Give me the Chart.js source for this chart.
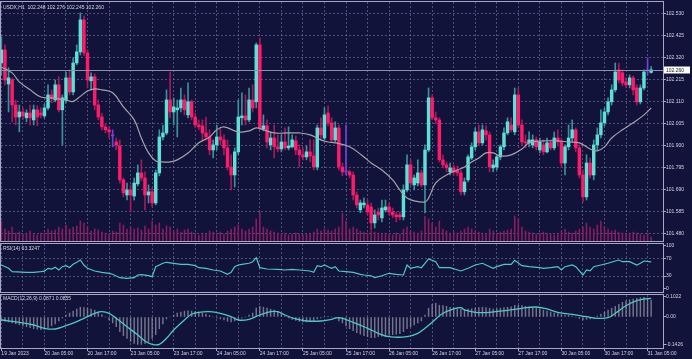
<!DOCTYPE html>
<html><head><meta charset="utf-8">
<script src="https://cdn.jsdelivr.net/npm/chart.js@4.4.1/dist/chart.umd.min.js"></script>
<style>
html,body{margin:0;padding:0;background:#11133a;width:692px;height:359px;overflow:hidden;position:relative;}
canvas{position:absolute;left:0;}
.lbl{position:absolute;left:3px;font:5px 'Liberation Sans',Arial,sans-serif;color:#d4d6e2;white-space:pre;line-height:6px;}
</style></head><body>
<canvas id="cMain" width="692" height="250" style="top:0px"></canvas>
<canvas id="cRsi" width="692" height="56" style="top:240px"></canvas>
<canvas id="cMacd" width="692" height="68" style="top:291px"></canvas>
<div class="lbl" style="top:4px">USDX,H1  102.248 102.276 102.245 102.260</div>
<div class="lbl" style="top:245px">RSI(14) 63.3247</div>
<div class="lbl" style="top:295px">MACD(12,26,9) 0.0871 0.0855</div>
<script>
// ---------- data ----------
const tickLabels = ['19 Jan 2023','20 Jan 05:00','20 Jan 17:00','23 Jan 05:00','23 Jan 17:00','24 Jan 05:00','24 Jan 17:00','25 Jan 05:00','25 Jan 17:00','26 Jan 05:00','26 Jan 17:00','27 Jan 05:00','27 Jan 17:00','30 Jan 05:00','30 Jan 17:00','31 Jan 05:00'];
const priceTicks = [101.480,101.585,101.690,101.795,101.900,102.005,102.110,102.215,102.320,102.425,102.530];
const rsiTicks = [0,30,70,100];
const macdTicks = [-0.1426,0,0.1022];
const currentPrice = 102.260;

const opens = [102.293,102.355,102.193,102.212,102.093,102.036,102.060,102.032,102.055,102.022,
102.070,102.055,102.041,102.079,102.141,102.117,102.189,102.070,102.117,102.222,
102.155,102.293,102.346,102.498,102.341,102.208,102.227,102.093,102.036,101.989,
101.975,101.946,101.917,101.898,101.737,101.665,101.689,101.660,101.718,101.770,
101.746,101.665,101.680,101.627,101.770,101.941,101.960,102.117,102.060,102.070,
102.079,102.117,102.046,102.108,102.036,101.998,101.994,101.960,101.941,101.879,
101.903,101.941,101.927,101.889,101.798,101.760,101.870,102.032,102.041,102.022,
102.117,102.108,102.379,101.979,101.994,101.903,101.936,101.894,101.884,101.917,
101.889,101.894,101.922,101.879,101.856,101.846,101.870,101.851,101.798,101.984,
101.936,102.055,102.008,101.927,101.984,101.798,101.775,101.775,101.760,101.665,
101.594,101.618,101.618,101.608,101.532,101.584,101.556,101.594,101.608,101.584,
101.570,101.570,101.561,101.689,101.808,101.713,101.722,101.770,101.713,101.879,
102.127,102.032,102.022,101.832,101.808,101.775,101.794,101.784,101.770,101.680,
101.737,101.841,101.894,101.965,101.913,101.970,101.951,101.794,101.798,101.846,
101.894,101.960,101.998,101.965,102.141,101.998,101.917,101.913,101.903,101.927,
101.879,101.903,101.870,101.913,101.889,101.936,101.917,101.817,101.894,101.936,
101.975,101.889,101.760,101.656,101.817,101.760,101.903,101.951,102.008,102.060,
102.108,102.165,102.260,102.246,102.203,102.189,102.222,102.174,102.108,102.174,
102.255,102.248];
const highs = [102.417,102.379,102.270,102.222,102.117,102.093,102.079,102.070,102.093,102.093,
102.089,102.079,102.098,102.189,102.165,102.212,102.227,102.141,102.250,102.260,
102.317,102.379,102.531,102.517,102.355,102.246,102.241,102.117,102.055,102.003,
101.989,101.975,101.936,101.927,101.746,101.722,101.713,101.746,101.808,101.832,
101.775,101.713,101.699,101.784,101.975,101.998,102.165,102.250,102.127,102.117,
102.174,102.141,102.198,102.117,102.055,102.022,102.022,102.036,101.975,101.927,
101.998,101.984,101.951,101.927,101.856,101.889,102.117,102.151,102.141,102.174,
102.189,102.388,102.412,102.046,102.022,101.965,101.998,101.951,101.951,101.984,
101.989,101.951,101.946,101.903,101.889,101.898,101.927,101.927,101.998,102.032,
102.079,102.089,102.032,102.013,101.998,101.817,101.998,101.784,101.775,101.680,
101.641,101.651,101.641,101.627,101.594,101.603,101.641,101.641,101.627,101.603,
101.584,101.584,101.713,101.856,101.832,101.760,101.832,101.784,101.903,102.174,
102.141,102.060,102.032,101.856,101.822,101.817,101.808,101.803,101.784,101.746,
101.856,101.913,101.984,101.998,101.998,101.994,101.965,101.832,101.856,101.903,
101.984,102.032,102.032,102.174,102.174,102.022,101.951,101.965,101.951,101.941,
101.936,101.927,101.936,101.927,101.965,101.975,101.936,101.903,101.998,102.022,
101.984,101.903,101.784,101.856,101.841,101.927,101.984,102.070,102.079,102.127,
102.189,102.293,102.293,102.260,102.222,102.236,102.231,102.189,102.189,102.260,
102.317,102.276];
const lows = [102.236,102.189,102.060,102.013,101.998,101.965,102.022,102.013,101.998,101.998,
101.994,102.032,102.032,102.070,102.103,102.108,102.060,101.903,102.103,102.141,
102.141,102.284,102.331,102.327,102.174,102.165,102.070,102.022,101.975,101.960,
101.936,101.894,101.879,101.722,101.656,101.641,101.584,101.641,101.708,101.732,
101.594,101.627,101.608,101.618,101.756,101.927,101.951,102.032,101.998,101.941,
102.060,102.046,102.032,102.022,101.984,101.975,101.927,101.927,101.856,101.841,
101.879,101.903,101.856,101.784,101.689,101.703,101.856,101.998,101.998,102.013,
102.060,102.079,101.975,101.970,101.889,101.879,101.841,101.870,101.870,101.879,
101.879,101.889,101.856,101.798,101.832,101.832,101.822,101.784,101.784,101.927,
101.927,101.994,101.917,101.917,101.784,101.756,101.760,101.746,101.641,101.603,
101.580,101.603,101.570,101.499,101.508,101.546,101.537,101.584,101.570,101.556,
101.537,101.546,101.546,101.680,101.708,101.689,101.708,101.703,101.580,101.870,
102.022,102.003,101.822,101.794,101.775,101.760,101.756,101.756,101.665,101.665,
101.727,101.832,101.879,101.898,101.903,101.927,101.775,101.775,101.784,101.832,
101.879,101.951,101.965,101.951,101.984,101.903,101.889,101.894,101.889,101.879,
101.865,101.856,101.865,101.879,101.879,101.898,101.794,101.760,101.879,101.917,
101.870,101.746,101.632,101.641,101.746,101.737,101.879,101.936,101.994,102.046,
102.093,102.155,102.198,102.184,102.174,102.174,102.141,102.093,102.098,102.165,
102.236,102.245];
const closes = [102.355,102.212,102.222,102.093,102.036,102.060,102.041,102.055,102.032,102.070,
102.036,102.046,102.079,102.141,102.122,102.189,102.070,102.127,102.222,102.155,
102.293,102.346,102.498,102.341,102.212,102.227,102.093,102.036,101.989,101.975,
101.965,101.946,101.903,101.737,101.675,101.689,101.665,101.722,101.770,101.746,
101.665,101.680,101.627,101.770,101.941,101.960,102.117,102.060,102.084,102.079,
102.117,102.070,102.108,102.036,101.998,101.989,101.960,101.941,101.879,101.903,
101.941,101.927,101.889,101.798,101.760,101.870,102.036,102.041,102.022,102.117,
102.079,102.379,101.984,101.994,101.917,101.936,101.894,101.884,101.917,101.889,
101.898,101.927,101.879,101.856,101.846,101.870,101.851,101.798,101.984,101.951,
102.046,102.008,101.927,101.984,101.798,101.775,101.775,101.760,101.665,101.618,
101.627,101.627,101.584,101.532,101.570,101.570,101.603,101.608,101.584,101.570,
101.561,101.561,101.689,101.808,101.722,101.746,101.770,101.713,101.879,102.127,
102.032,102.022,101.832,101.808,101.794,101.794,101.775,101.770,101.680,101.727,
101.846,101.894,101.965,101.913,101.975,101.951,101.798,101.808,101.846,101.894,
101.960,102.013,101.975,102.141,101.998,101.917,101.913,101.927,101.927,101.894,
101.917,101.870,101.913,101.889,101.936,101.917,101.817,101.894,101.936,101.975,
101.889,101.760,101.656,101.817,101.760,101.903,101.951,102.008,102.060,102.108,
102.165,102.250,102.212,102.198,102.189,102.222,102.165,102.108,102.174,102.250,
102.255,102.260];
const volumes = [1000,600,500,700,400,450,350,400,500,350,300,400,
400,600,500,550,700,600,800,600,700,750,1000,900,
700,500,600,550,450,400,350,500,450,900,800,600,
700,600,650,550,750,600,1000,800,900,600,750,700,
500,600,450,550,600,450,400,300,400,350,500,450,
400,450,350,500,600,700,800,600,500,600,700,1100,
1450,700,600,500,450,400,350,400,300,350,400,350,
300,350,400,450,600,500,600,550,500,600,700,1400,
1000,600,700,600,500,450,400,500,450,400,350,400,
350,300,400,350,600,700,500,450,400,500,1250,1100,
900,700,1000,600,500,400,450,400,500,600,700,600,
500,450,400,350,600,500,400,450,500,550,600,1250,
1100,700,500,450,400,350,400,450,400,350,300,400,
500,600,450,400,500,600,700,900,700,600,800,1000,
700,600,500,550,450,400,350,400,450,400,350,300,
400,200];
const maBars =   [0,3,5,8,11,14,16,19,20,22,24,26,28,31,34,37,39,41,43,45,47,49,52,55,58,60,62,66,69,71,73,76,80,83,86,89,91,93,97,101,103,106,109,111,113,115,118,119,121,124,127,129,131,133,135,137,139,142,145,147,151,155,158,161,164,166,168,170,173,176,179,181];
const maValues = [102.274,102.246,102.203,102.165,102.131,102.127,102.122,102.112,102.110,102.134,102.160,102.170,102.165,102.151,102.084,102.022,101.936,101.865,101.827,101.822,101.822,101.832,101.865,101.913,101.941,101.975,101.989,101.965,101.970,101.984,101.975,101.960,101.960,101.960,101.951,101.927,101.917,101.913,101.894,101.846,101.817,101.784,101.737,101.689,101.651,101.637,101.632,101.650,101.722,101.760,101.784,101.798,101.822,101.841,101.865,101.865,101.851,101.856,101.884,101.913,101.922,101.922,101.917,101.913,101.884,101.875,101.894,101.936,101.975,102.008,102.046,102.079];
const rsiBars =   [0,2,3,7,9,11,12,13,14,15,16,17,18,19,20,21,22,23,24,26,28,30,31,33,35,37,38,39,41,42,43,45,46,48,50,52,54,55,57,59,61,63,64,65,66,67,69,70,71,72,74,77,79,81,83,86,87,88,89,90,91,92,93,94,96,98,100,101,103,104,106,108,110,112,113,114,116,117,118,119,121,122,125,128,130,132,134,135,137,138,140,142,143,145,147,150,151,153,155,156,157,159,160,162,163,164,165,167,169,171,172,173,175,177,178,179,181];
const rsiValues = [55.8,48.1,40.2,38.8,38.8,40.2,41.5,48.1,46.5,50.5,44.2,51.9,54.2,50.0,57.4,62.1,67.4,55.8,48.1,41.9,38.8,36.5,34.2,26.3,24.9,26.3,32.6,33.5,30.9,28.6,51.9,59.8,62.1,59.8,57.4,57.4,54.2,49.5,48.1,44.2,41.9,34.2,38.8,51.9,55.8,57.4,59.8,63.5,72.8,49.5,46.5,45.8,44.2,45.5,44.2,41.9,38.8,54.2,51.9,55.8,51.9,48.1,51.9,41.9,40.2,38.8,34.2,32.6,30.9,26.3,30.9,36.5,34.2,32.6,55.8,48.1,51.9,49.5,59.8,69.8,63.5,49.5,49.5,41.9,48.1,55.8,59.8,55.8,48.1,51.9,57.4,57.4,66.7,54.2,51.9,49.5,48.1,49.5,51.9,44.2,51.9,55.8,51.9,32.6,44.2,42.0,51.9,55.8,59.8,65.1,67.4,63.5,63.5,55.8,59.8,65.1,63.3];
const macdHist = [-0.020,-0.022,-0.025,-0.030,-0.035,-0.040,-0.045,-0.050,-0.055,-0.060,-0.062,-0.065,
-0.063,-0.055,-0.045,-0.035,-0.020,-0.005,0.010,0.020,0.030,0.040,0.050,0.048,
0.045,0.040,0.035,0.025,0.012,0.000,-0.015,-0.030,-0.050,-0.075,-0.095,-0.110,
-0.125,-0.135,-0.140,-0.140,-0.135,-0.125,-0.110,-0.090,-0.060,-0.035,-0.010,0.000,
0.010,0.020,0.025,0.030,0.032,0.030,0.028,0.025,0.020,0.015,0.008,0.000,
-0.005,-0.010,-0.015,-0.022,-0.025,-0.020,-0.012,-0.005,0.000,0.010,0.020,0.045,
0.055,0.050,0.045,0.040,0.035,0.025,0.015,0.005,-0.005,-0.012,-0.018,-0.022,
-0.025,-0.025,-0.022,-0.020,-0.010,-0.005,0.000,0.003,0.000,-0.005,-0.020,-0.030,
-0.045,-0.060,-0.070,-0.080,-0.088,-0.095,-0.100,-0.105,-0.105,-0.100,-0.098,-0.095,
-0.092,-0.090,-0.088,-0.085,-0.075,-0.060,-0.050,-0.040,-0.030,-0.020,0.010,0.045,
0.065,0.070,0.060,0.058,0.055,0.050,0.048,0.045,0.040,0.038,0.040,0.042,
0.045,0.048,0.050,0.048,0.045,0.040,0.042,0.045,0.048,0.050,0.052,0.060,
0.060,0.058,0.055,0.052,0.048,0.045,0.040,0.035,0.030,0.025,0.020,0.018,
0.012,0.010,0.008,0.005,0.000,-0.008,-0.015,-0.012,-0.010,-0.005,0.005,0.015,
0.025,0.035,0.045,0.055,0.065,0.075,0.082,0.088,0.092,0.095,0.098,0.100,
0.097,0.087];
const signalBars =   [0,5,9,12,15,18,21,24,26,28,30,32,35,38,40,42,44,46,48,51,53,55,58,61,64,66,69,72,75,77,79,82,85,89,92,94,98,102,105,108,113,116,118,120,123,126,128,129,132,136,141,145,149,152,155,159,163,166,169,171,174,177,179,181];
const signalValues = [-0.0153,-0.0271,-0.0409,-0.0577,-0.0613,-0.0445,-0.0240,0.0015,0.0189,0.0271,0.0189,-0.0066,-0.0496,-0.0920,-0.1226,-0.1395,-0.1395,-0.1088,-0.0664,-0.0153,0.0138,0.0240,0.0271,0.0189,0.0015,-0.0153,-0.0118,0.0102,0.0271,0.0271,0.0102,-0.0102,-0.0204,-0.0204,-0.0118,-0.0036,-0.0271,-0.0577,-0.0833,-0.1007,-0.1007,-0.0833,-0.0577,-0.0271,0.0189,0.0409,0.0475,0.0358,0.0240,0.0240,0.0342,0.0445,0.0511,0.0409,0.0240,0.0138,0.0015,-0.0066,-0.0036,0.0189,0.0577,0.0833,0.0920,0.0950];

// ---------- style ----------
const GRID = 'rgba(130,134,175,0.55)';
const FRAME = '#a4a6c2';
const TXT = '#d2d4e0';
const UP_BODY = '#5fe0d6', UP_WICK = '#3a929a';
const DN_BODY = '#ff1a6c', DN_WICK = '#a8185c';
const DOJI = '#6c44d8';
const X_MIN = -0.1, X_MAX = 184.3;

Chart.defaults.font.family = "'Liberation Sans', Arial, sans-serif";
Chart.defaults.font.size = 5;
Chart.defaults.color = TXT;
Chart.defaults.animation = false;

const gridBars = [];
tickLabels.forEach((_, i) => { gridBars.push(i * 12); if (i < tickLabels.length - 1) gridBars.push(i * 12 + 6); });

const isDoji = i => Math.abs(opens[i] - closes[i]) < 0.0005;
const bodyColors = closes.map((c, i) => isDoji(i) ? DOJI : (c >= opens[i] ? UP_BODY : DN_BODY));
const wickColors = closes.map((c, i) => isDoji(i) ? DOJI : (c >= opens[i] ? UP_WICK : DN_WICK));

const framePlugin = {
  id: 'frame',
  afterDraw(chart) {
    const {ctx, chartArea: a} = chart;
    ctx.save();
    ctx.strokeStyle = FRAME; ctx.lineWidth = 1;
    ctx.strokeRect(Math.round(a.left) - 0.5, Math.round(a.top) - 0.5, Math.round(a.right - a.left) + 1, Math.round(a.bottom - a.top) + 1);
    ctx.restore();
  }
};
const pricePlugin = {
  id: 'priceLine',
  afterDatasetsDraw(chart) {
    const {ctx, chartArea: a, scales} = chart;
    const y = Math.round(scales.y.getPixelForValue(currentPrice)) + 0.5;
    ctx.save();
    ctx.strokeStyle = '#8e90aa'; ctx.lineWidth = 1;
    ctx.beginPath(); ctx.moveTo(a.left, y); ctx.lineTo(a.right, y); ctx.stroke();
    ctx.fillStyle = '#ffffff';
    ctx.fillRect(a.right + 1, y - 4, 26, 7);
    ctx.fillStyle = '#222';
    ctx.font = "5px 'Liberation Sans', Arial, sans-serif";
    ctx.textBaseline = 'middle'; ctx.textAlign = 'left';
    ctx.fillText(currentPrice.toFixed(3), a.right + 3, y);
    ctx.restore();
  }
};

function xScale(showLabels) {
  return {
    type: 'linear', min: X_MIN, max: X_MAX, offset: false,
    afterBuildTicks: s => { s.ticks = gridBars.map(v => ({value: v})); },
    ticks: { display: showLabels, autoSkip: false, maxRotation: 0, minRotation: 0, align: 'start', padding: 0, color: TXT,
      callback: v => (v % 12 === 0 ? tickLabels[v / 12] : '') },
    grid: { color: GRID, lineWidth: 1, offset: false, drawTicks: showLabels, tickLength: 3, tickBorderDash: [],
      tickColor: c => (c.tick && c.tick.value % 12 === 0 ? FRAME : 'rgba(0,0,0,0)') },
    border: { display: false, dash: [2, 2] },
    afterFit: s => { s.height = showLabels ? 11 : 0; s.paddingLeft = 0; s.paddingRight = 0; }
  };
}
function yScale(min, max, ticks, fmt, gridFn) {
  return {
    position: 'right', min, max,
    afterBuildTicks: s => { s.ticks = ticks.map(v => ({value: v})); },
    ticks: { autoSkip: false, padding: 0, color: TXT, callback: fmt },
    grid: { color: gridFn, lineWidth: 1, drawTicks: true, tickLength: 3, tickColor: FRAME, tickBorderDash: [] },
    border: { display: false, dash: [2, 2] },
    afterFit: s => { s.width = 29; s.paddingTop = 0; s.paddingBottom = 0; }
  };
}
const common = {
  responsive: false, animation: false, events: [],
  plugins: { legend: { display: false }, tooltip: { enabled: false } }
};

// ---------- main price chart ----------
new Chart(document.getElementById('cMain'), {
  type: 'bar',
  data: {
    datasets: [
      { type: 'line', data: maBars.map((b, i) => ({x: b, y: maValues[i]})), borderColor: '#a3a3ad', borderWidth: 1.2,
        pointRadius: 0, tension: 0.4, order: 1, yAxisID: 'y' },
      { data: closes.map((c, i) => ({x: i, y: [opens[i], c]})), backgroundColor: bodyColors, barThickness: 2.8,
        minBarLength: 1, grouped: false, order: 2, yAxisID: 'y' },
      { data: closes.map((c, i) => ({x: i, y: [lows[i], highs[i]]})), backgroundColor: wickColors, barThickness: 1,
        grouped: false, order: 3, yAxisID: 'y' },
      { data: volumes.map((v, i) => ({x: i, y: v})), backgroundColor: '#8c1d62', barThickness: 0.9,
        grouped: false, order: 10, yAxisID: 'yVol' }
    ]
  },
  options: Object.assign({}, common, {
    layout: { padding: { left: 1, right: 0, top: 2, bottom: 9 } },
    scales: {
      x: xScale(false),
      y: yScale(101.446, 102.583, priceTicks, v => v.toFixed(3), () => GRID),
      yVol: { display: false, min: 0, max: 11950 }
    }
  }),
  plugins: [framePlugin, pricePlugin]
});

// ---------- RSI ----------
new Chart(document.getElementById('cRsi'), {
  type: 'line',
  data: { datasets: [{ data: rsiBars.map((b, i) => ({x: b, y: rsiValues[i]})), borderColor: '#4fc8c2', borderWidth: 1.2,
    pointRadius: 0, tension: 0 }] },
  options: Object.assign({}, common, {
    layout: { padding: { left: 1, right: 0, top: 4, bottom: 4 } },
    scales: {
      x: xScale(false),
      y: yScale(-6.98, 104.65, rsiTicks, v => String(v),
        c => (c.tick && (c.tick.value === 30 || c.tick.value === 70) ? GRID : 'rgba(0,0,0,0)'))
    }
  }),
  plugins: [framePlugin]
});

// ---------- MACD ----------
new Chart(document.getElementById('cMacd'), {
  type: 'bar',
  data: { datasets: [
    { type: 'line', data: signalBars.map((b, i) => ({x: b, y: signalValues[i]})), borderColor: '#4fc8c2', borderWidth: 1.3,
      pointRadius: 0, tension: 0.4, order: 1 },
    { data: macdHist.map((v, i) => ({x: i, y: v})), backgroundColor: 'rgba(150,150,168,0.75)', barThickness: 0.8, order: 2 }
  ] },
  options: Object.assign({}, common, {
    layout: { padding: { left: 1, right: 0, top: 4, bottom: 0 } },
    scales: {
      x: xScale(true),
      y: yScale(-0.1584, 0.1124, macdTicks, v => (v === 0 ? '0.00' : v.toFixed(4)), () => 'rgba(0,0,0,0)')
    }
  }),
  plugins: [framePlugin]
});
</script>
</body></html>
